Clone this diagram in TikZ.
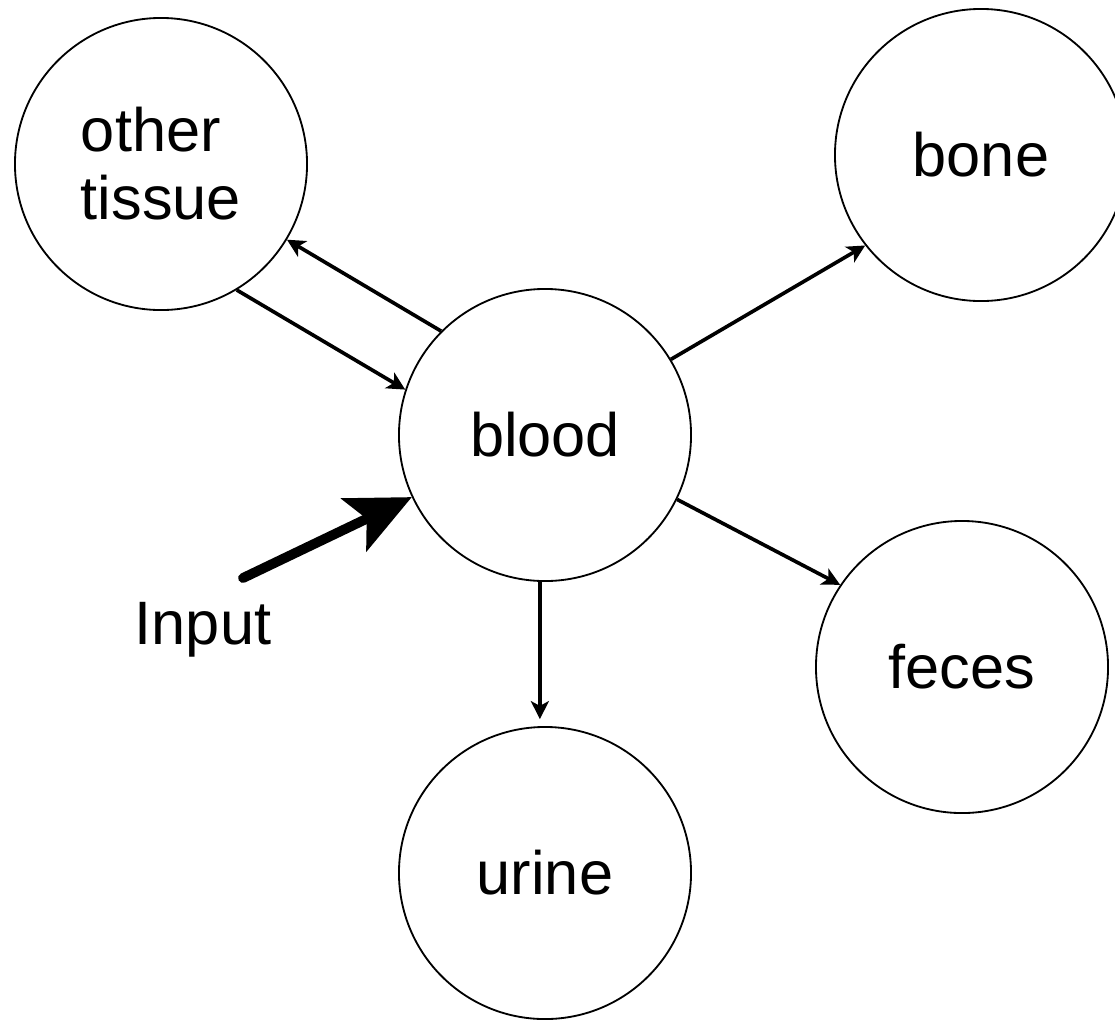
\documentclass[tikz,border=0pt]{standalone}
\usepackage{fontspec}
\setmainfont{Liberation Sans}
\usepackage{tikz}
\usetikzlibrary{arrows.meta, positioning}

\begin{document}
\begin{tikzpicture}[
			x=0.025cm, y=-0.025cm,
			pool/.style={
				draw=black, fill=white, circle,
				line width=1.3pt, minimum size=7.3cm,
				inner sep=0pt, align=left,
				font=\fontsize{43.6}{48.4}\selectfont
			},
			flow/.style={
				line width=2.6pt,
				-{Stealth[length=0.45cm, width=0.45cm, inset=0.12cm]}
			},
			intake/.style={
				line width=7pt, line cap=round,
				-{Stealth[length=1.6cm, width=1.45cm, inset=0.35cm]}
			},
			label/.style={
				font=\fontsize{43.6}{48.4}\selectfont
			}
			]
			
			\useasboundingbox (0,0) rectangle (1115,1021);
			\clip (0,0) rectangle (1115,1021);
			
			% compartments
			\node[pool] (blood) at (545,435) {blood};
			\node[pool] (other) at (161,164) {other\\tissue};
			\node[pool] (bone) at (981,155) {bone};
			\node[pool] (feces) at (962,667) {feces};
			\node[pool] (urine) at (545,873) {urine};
			
			% exchange with tissue
			\draw[flow] (blood.135) -- (other.-31);
			\draw[flow] (other.-59) -- (blood.162);
			
			% losses
			\draw[flow] (blood.31) -- (bone.218);
			\draw[flow] (blood.-26) -- (feces.146);
			\draw[flow] (blood.-92) -- ([yshift=5pt]urine.92);
			
			% input
			\coordinate (source) at (243,578);
			\draw[intake] (source) -- (blood.205);
			\node[label] (input) at (203,630) {Input};
			
		\end{tikzpicture}
\end{document}
